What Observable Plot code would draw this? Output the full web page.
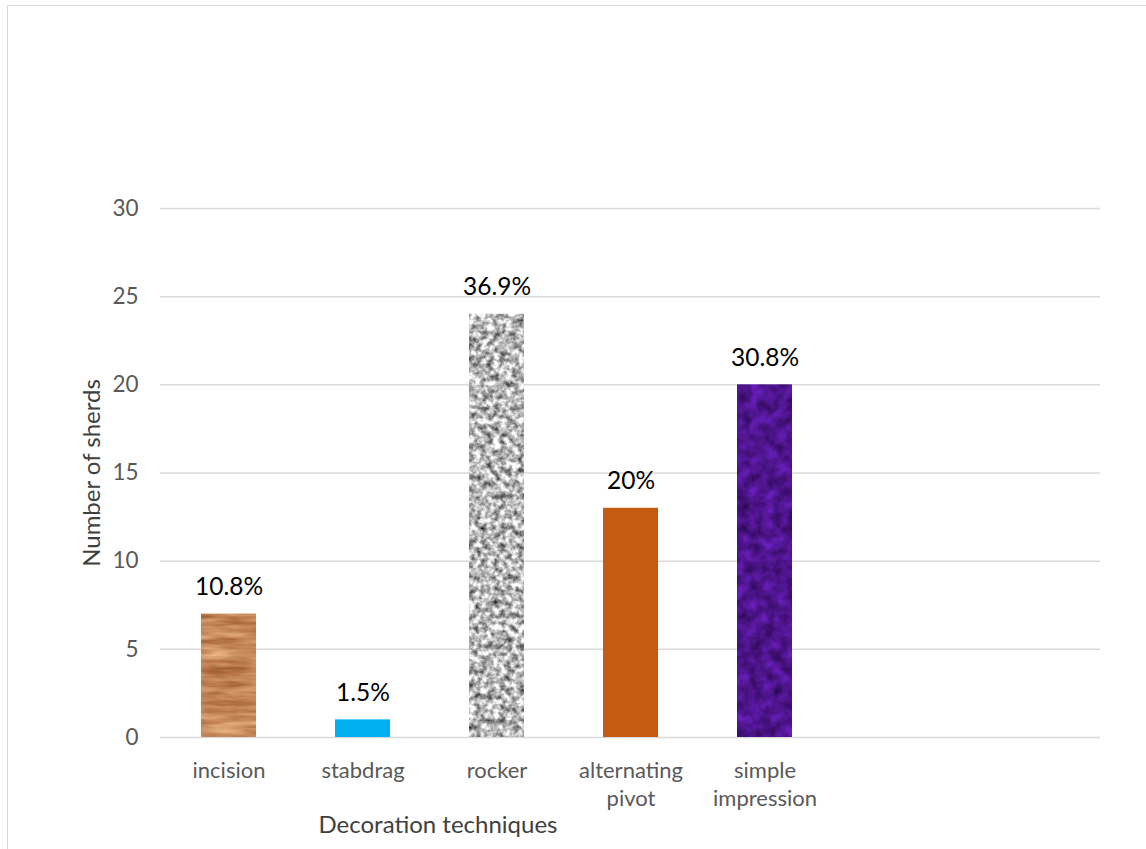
<!DOCTYPE html>
<html>
<head>
<meta charset="utf-8">
<script src="https://cdn.jsdelivr.net/npm/d3@7"></script>
<script src="https://cdn.jsdelivr.net/npm/@observablehq/plot@0.6"></script>
<style>
  html, body { margin: 0; padding: 0; background: #fff; overflow: hidden; }
  #chart { position: absolute; left: 0; top: 0; }
  #frame {
    position: absolute; left: 7px; top: 5px; width: 1200px; height: 900px;
    border: 1.5px solid #d9d9d9; box-sizing: border-box; pointer-events: none;
  }
</style>
</head>
<body>
<div id="chart"></div>
<div id="frame"></div>
<script>
// Sherd counts per decoration technique
const techniques = ["incision", "stabdrag", "rocker", "alternating pivot", "simple impression"];
const sherdCounts = [7, 1, 24, 13, 20];
const tickLabels = ["incision", "stabdrag", "rocker", "alternating\npivot", "simple\nimpression"];
const yTicks = [0, 5, 10, 15, 20, 25, 30];
const barFills = ["url(#wood)", "#00B0F0", "url(#granite)", "#C55A11", "url(#amethyst)"];
const xTitle = "Decoration techniques";
const yTitle = "Number of sherds";

const total = d3.sum(sherdCounts);
const pct = v => d3.format(".1f")(100 * v / total).replace(/\.0$/, "") + "%";

const data = techniques.map((t, i) => ({
  technique: t,
  count: sherdCounts[i],
  fill: barFills[i],
  share: pct(sherdCounts[i])
}));
const tickText = new Map(techniques.map((t, i) => [t, tickLabels[i]]));

const font = "Lato, 'Open Sans', sans-serif";

const chart = Plot.plot({
  width: 1146,
  height: 849,
  marginLeft: 160,
  marginRight: 46,
  marginTop: 208,
  marginBottom: 112,
  style: { fontFamily: font, background: "transparent", overflow: "visible" },
  x: { domain: techniques, range: [160.5, 832], paddingInner: 0.59, paddingOuter: 0.295, axis: null },
  y: { domain: [0, 30], axis: null },
  color: { type: "identity" },
  marks: [
    Plot.ruleY(yTicks, { stroke: "#d9d9d9", strokeWidth: 1.5 }),
    Plot.barY(data, { x: "technique", y: "count", fill: "fill" }),
    Plot.text(data, {
      x: "technique", y: "count", text: "share",
      dy: -19, lineAnchor: "bottom", fontSize: 24.5, fill: "#000"
    }),
    Plot.axisY({
      ticks: yTicks, tickSize: 0, tickPadding: 22, fontSize: 22.5,
      color: "#595959", label: null
    }),
    Plot.axisX({
      tickSize: 0, tickPadding: 20, fontSize: 22, lineHeight: 1.28,
      tickFormat: d => tickText.get(d), color: "#595959", label: null
    }),
    Plot.text([xTitle], {
      text: d => d, frameAnchor: "bottom-left", dx: 277.5, dy: 95,
      textAnchor: "middle", lineAnchor: "bottom", fontSize: 24, fill: "#404040"
    }),
    Plot.text([yTitle], {
      text: d => d, frameAnchor: "left", dx: -68, rotate: -90,
      textAnchor: "middle", lineAnchor: "middle", fontSize: 24, fill: "#404040"
    })
  ]
});

// Fill textures for the patterned bars
const svg = d3.select(chart);
const defs = svg.insert("defs", ":first-child");

function texture(id, freq, octaves, seed, matrix, blur) {
  const f = defs.append("filter")
    .attr("id", id + "-noise")
    .attr("x", 0).attr("y", 0).attr("width", 1).attr("height", 1)
    .attr("color-interpolation-filters", "sRGB");
  f.append("feTurbulence")
    .attr("type", "fractalNoise")
    .attr("baseFrequency", freq)
    .attr("numOctaves", octaves)
    .attr("seed", seed);
  f.append("feColorMatrix").attr("type", "matrix").attr("values", matrix);
  if (blur) f.append("feGaussianBlur").attr("stdDeviation", blur);
  const p = defs.append("pattern")
    .attr("id", id)
    .attr("patternUnits", "userSpaceOnUse")
    .attr("x", 0).attr("y", 0).attr("width", 1146).attr("height", 849);
  p.append("rect")
    .attr("width", 1146).attr("height", 849)
    .attr("fill", "#fff")
    .attr("filter", `url(#${id}-noise)`);
}

texture("wood", "0.02 0.15", 3, 4,
  "0.45 0 0 0 0.545  0.55 0 0 0 0.255  0.5 0 0 0 0.095  0 0 0 0 1", 0.4);
texture("granite", "0.16", 3, 7,
  "1.4 0 0 0 0.02  1.4 0 0 0 0.02  1.4 0 0 0 0.02  0 0 0 0 1", 0.6);
texture("amethyst", "0.08", 4, 2,
  "0.35 0 0 0 0.13  0.12 0 0 0 0.02  0.6 0 0 0 0.25  0 0 0 0 1", 0.5);

document.getElementById("chart").appendChild(chart);
</script>
</body>
</html>
